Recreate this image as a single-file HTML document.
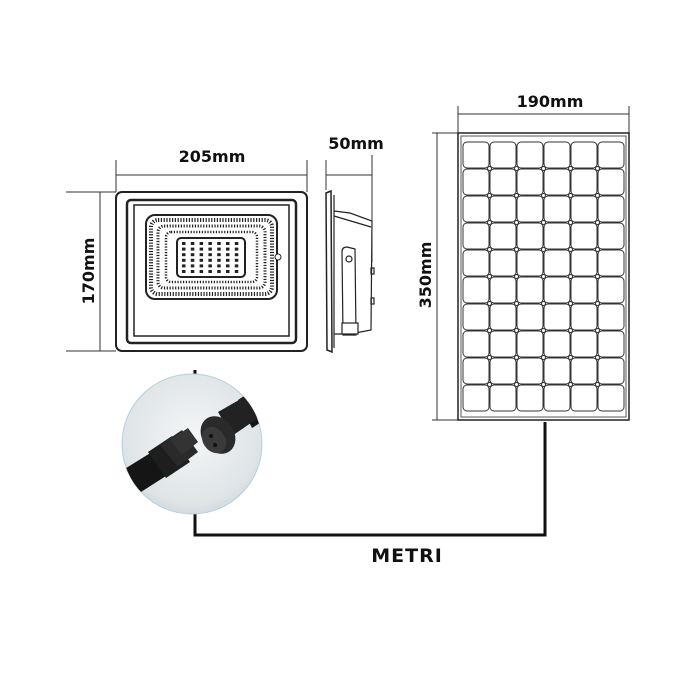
<!DOCTYPE html>
<html><head><meta charset="utf-8"><style>
html,body{margin:0;padding:0;background:#fff;width:700px;height:700px;overflow:hidden}
svg{display:block}
text{font-family:"DejaVu Sans","Liberation Sans",sans-serif;font-weight:bold;fill:#111}
</style></head><body>
<svg id="s" width="700" height="700" viewBox="0 0 700 700" xmlns="http://www.w3.org/2000/svg">
<defs>
<radialGradient id="cg" cx="0.5" cy="0.45" r="0.6">
<stop offset="0" stop-color="#f4f6f7"/><stop offset="0.8" stop-color="#dfe4e7"/><stop offset="1" stop-color="#c9d6de"/>
</radialGradient>
</defs>
<g stroke="#333" stroke-width="1" fill="none">
<line x1="116" y1="160" x2="116" y2="192"/><line x1="307" y1="160" x2="307" y2="192"/>
<line x1="116" y1="175" x2="307" y2="175"/>
<line x1="66" y1="192" x2="116" y2="192"/><line x1="66" y1="351" x2="116" y2="351"/>
<line x1="100" y1="192" x2="100" y2="351"/>
<line x1="326" y1="160" x2="326" y2="190"/><line x1="372" y1="155" x2="372" y2="262"/>
<line x1="326" y1="175" x2="372" y2="175"/>
</g>
<text x="212" y="162" font-size="16" text-anchor="middle">205mm</text>
<text x="356" y="149" font-size="16" text-anchor="middle">50mm</text>
<text x="0" y="0" font-size="16" text-anchor="middle" transform="translate(94,271) rotate(-90)">170mm</text>
<rect x="116" y="192" width="191" height="159" rx="6" fill="#fff" stroke="#222" stroke-width="2"/>
<rect x="127" y="200" width="169" height="143" rx="4" fill="none" stroke="#222" stroke-width="2.5"/>
<rect x="134" y="205" width="155" height="131" fill="none" stroke="#222" stroke-width="1.5"/>
<rect x="146" y="215" width="131" height="84" rx="9" fill="none" stroke="#222" stroke-width="2"/>
<rect x="151" y="220" width="121" height="74" rx="7" fill="none" stroke="#222" stroke-width="4" stroke-dasharray="1.2 1.6"/>
<rect x="158" y="226" width="107" height="62" rx="6" fill="none" stroke="#222" stroke-width="3" stroke-dasharray="1.2 1.6"/>
<rect x="166" y="232" width="91" height="50" rx="5" fill="none" stroke="#222" stroke-width="2.5" stroke-dasharray="1.2 1.6"/>
<rect x="177" y="238" width="68" height="39" rx="4" fill="#fff" stroke="#222" stroke-width="2"/>
<circle cx="278" cy="257" r="3" fill="#fff" stroke="#222"/>
<g id="leds"></g>
<g stroke="#222" fill="none" stroke-width="1.2">
<path d="M326 193 L331 191 L332 352 L327 350 Z" stroke-width="1.5"/>
<line x1="334" y1="195" x2="334" y2="348"/>
<path d="M334 211 L350 213 L372 221 L371 330 L350 334 L334 334"/>
<line x1="334" y1="216" x2="371" y2="227"/>
<path d="M342 252 Q342 247 347 247 L355 249 L356 335 L343 335 Z" fill="#fff"/>
<circle cx="349" cy="259" r="3"/>
<rect x="342" y="323" width="16" height="11" fill="#fff"/>
<rect x="371" y="268" width="3" height="6"/><rect x="371" y="298" width="3" height="6"/>
</g>
<g stroke="#333" stroke-width="1" fill="none">
<line x1="458" y1="106" x2="458" y2="133"/><line x1="629" y1="106" x2="629" y2="133"/>
<line x1="458" y1="114" x2="629" y2="114"/>
<line x1="432" y1="133" x2="458" y2="133"/><line x1="432" y1="420" x2="458" y2="420"/>
<line x1="437" y1="133" x2="437" y2="420"/>
</g>
<text x="550" y="107" font-size="16" text-anchor="middle">190mm</text>
<text x="0" y="0" font-size="16" text-anchor="middle" transform="translate(431,275) rotate(-90)">350mm</text>
<rect x="458" y="133" width="171" height="287" fill="#fff" stroke="#222" stroke-width="1.5"/>
<rect x="461" y="136" width="165" height="281" fill="none" stroke="#555" stroke-width="1"/>
<g id="cells"></g>
<path d="M195 370 V535 H545 V422" fill="none" stroke="#111" stroke-width="3"/>
<circle cx="192" cy="444" r="70" fill="url(#cg)" stroke="#b9cfdc" stroke-width="1"/>
<clipPath id="cc"><circle cx="192" cy="444" r="70"/></clipPath>
<g clip-path="url(#cc)">
<path d="M110 478 L152 452 L166 476 L122 504 Z" fill="#151515"/>
<path d="M148 452 L172 436 L190 462 L166 478 Z" fill="#1e1e1e"/>
<path d="M160 445 L182 430 L198 452 L178 467 Z" fill="#2a2a2a"/>
<path d="M170 440 L188 428 L198 442 L182 455 Z" fill="#333"/>
<path d="M238 400 L262 384 L280 410 L252 428 Z" fill="#151515"/>
<path d="M218 412 L246 396 L258 418 L232 436 Z" fill="#222"/>
<ellipse cx="218" cy="435" rx="16" ry="20" fill="#2a2a2a" transform="rotate(-35 218 435)"/>
<ellipse cx="214" cy="440" rx="11" ry="14" fill="#3a3a3a" transform="rotate(-35 214 440)"/>
<circle cx="211" cy="436" r="2" fill="#111"/><circle cx="215" cy="445" r="2" fill="#111"/>
</g>
<text x="407" y="562" font-size="19" text-anchor="middle" letter-spacing="1">METRI</text>
</svg>
<script>
var ns="http://www.w3.org/2000/svg";
var l=document.getElementById('leds');
for(var r=0;r<6;r++)for(var c=0;c<7;c++){var e=document.createElementNS(ns,'rect');
e.setAttribute('x',182+c*8.8);e.setAttribute('y',242+r*5.6);e.setAttribute('width',3.5);e.setAttribute('height',3);e.setAttribute('fill','#222');l.appendChild(e);}
var g=document.getElementById('cells');
for(var r=0;r<10;r++)for(var c=0;c<6;c++){var e=document.createElementNS(ns,'rect');
e.setAttribute('x',463+c*27);e.setAttribute('y',142+r*27);e.setAttribute('width',26);e.setAttribute('height',26);e.setAttribute('rx',4);
e.setAttribute('fill','#fff');e.setAttribute('stroke','#333');e.setAttribute('stroke-width','1');g.appendChild(e);}
for(var r=1;r<10;r++)for(var c=1;c<6;c++){var e=document.createElementNS(ns,'circle');
e.setAttribute('cx',463+c*27-0.5);e.setAttribute('cy',142+r*27-0.5);e.setAttribute('r',2);e.setAttribute('fill','#fff');e.setAttribute('stroke','#333');g.appendChild(e);}
</script>
</body></html>
